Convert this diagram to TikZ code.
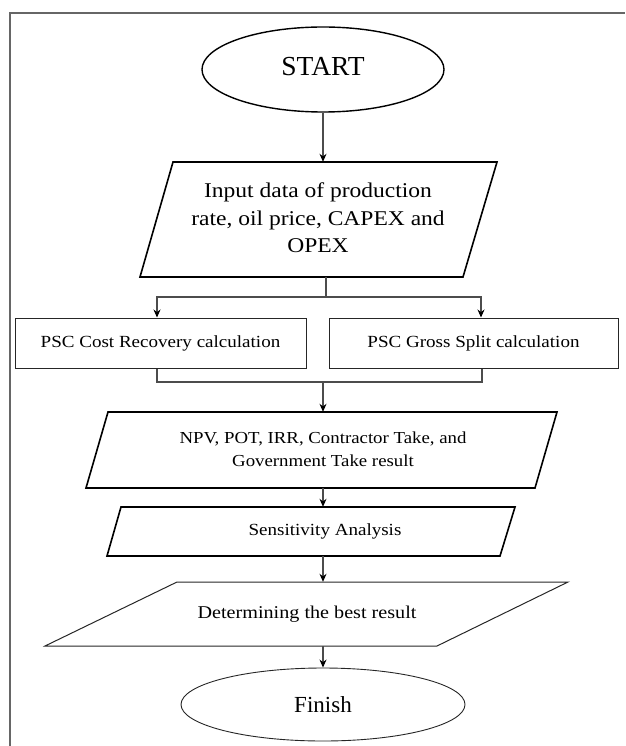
\documentclass[tikz,border=0pt]{standalone}
\usepackage{fontspec}
\setmainfont{Liberation Serif}
\newfontfamily\bodyfont[FakeStretch=1.12]{Liberation Serif}
\usetikzlibrary{arrows.meta,shapes.geometric}
\begin{document}
\begin{tikzpicture}[x=1pt,y=-1pt,
  conn/.style={draw=black!70,line width=1.1pt},
  arr/.style={conn,-{Stealth[length=8pt,width=7pt,color=black]}},
  thickshape/.style={draw=black,line width=1.6pt,line join=miter},
  thinshape/.style={draw=black!85,line width=1pt},
  txt/.style={inner sep=0pt,align=center,font=\bodyfont},
  pscbox/.style={draw=black!85,line width=1pt,inner sep=0pt,minimum height=50pt,font=\bodyfont\fontsize{17}{20}\selectfont}]
\useasboundingbox (0,0) rectangle (625,746);
% frame
\draw[draw=black!60,line width=1.2pt] (10,746) -- (10,13) -- (625,13);
% start
\node[ellipse,thickshape,line width=1.4pt,inner sep=0pt,minimum width=242pt,minimum height=85pt,font=\fontsize{27.5}{30}\selectfont] (start) at (323,69.5) {\raisebox{6pt}{START}};
% input
\draw[thickshape] (173,162) -- (497,162) -- (463,277) -- (140,277) -- cycle;
\node[txt,minimum width=324pt,minimum height=115pt,font=\bodyfont\fontsize{21}{27.5}\selectfont] (inp) at (318,219.5) {\raisebox{5pt}{\begin{tabular}{@{}c@{}}Input data of production\\rate, oil price, CAPEX and\\OPEX\end{tabular}}};
% psc boxes
\node[pscbox,minimum width=291pt] (pcr) at (160.5,343) {PSC Cost Recovery calculation};
\node[pscbox,minimum width=289pt] (pgs) at (473.5,343) {PSC Gross Split calculation};
% npv
\draw[thickshape] (108,412) -- (557,412) -- (535,488) -- (86,488) -- cycle;
\node[txt,minimum width=449pt,minimum height=76pt,font=\bodyfont\fontsize{16.8}{23}\selectfont] (npv) at (323,450) {\raisebox{6pt}{\begin{tabular}{@{}c@{}}NPV, POT, IRR, Contractor Take, and\\Government Take result\end{tabular}}};
% sensitivity
\draw[thickshape] (121,507) -- (515,507) -- (500,556) -- (107,556) -- cycle;
\node[txt,minimum width=380pt,minimum height=49pt,font=\bodyfont\fontsize{17}{20}\selectfont] (sens) at (325,531.5) {Sensitivity Analysis};
% determining
\draw[thinshape] (177,582) -- (568,582) -- (437,646) -- (45,646) -- cycle;
\node[txt,minimum width=260pt,minimum height=64pt,font=\bodyfont\fontsize{18}{20}\selectfont] (det) at (307,614) {\raisebox{1pt}{Determining the best result}};
% finish
\node[ellipse,draw=black!85,line width=0.9pt,inner sep=0pt,minimum width=284pt,minimum height=73pt,font=\fontsize{23}{26}\selectfont] (fin) at (323,704.5) {Finish};
% connectors
\draw[arr] (start.south) -- (start.south |- inp.north);
\coordinate (split) at (326,297);
\coordinate (merge) at (323,382);
\draw[conn] (inp.south -| split) -- (split);
\draw[arr] (split) -| ([xshift=-3.5pt]pcr.north);
\draw[arr] (split) -| ([xshift=7.5pt]pgs.north);
\draw[conn] ([xshift=-3.5pt]pcr.south) |- (merge);
\draw[conn] ([xshift=8.5pt]pgs.south) |- (merge);
\draw[arr] (merge) -- (merge |- npv.north);
\draw[arr] (npv.south -| merge) -- (merge |- sens.north);
\draw[arr] (sens.south -| merge) -- (merge |- det.north);
\draw[arr] (det.south -| merge) -- (fin.north);
\end{tikzpicture}
\end{document}
